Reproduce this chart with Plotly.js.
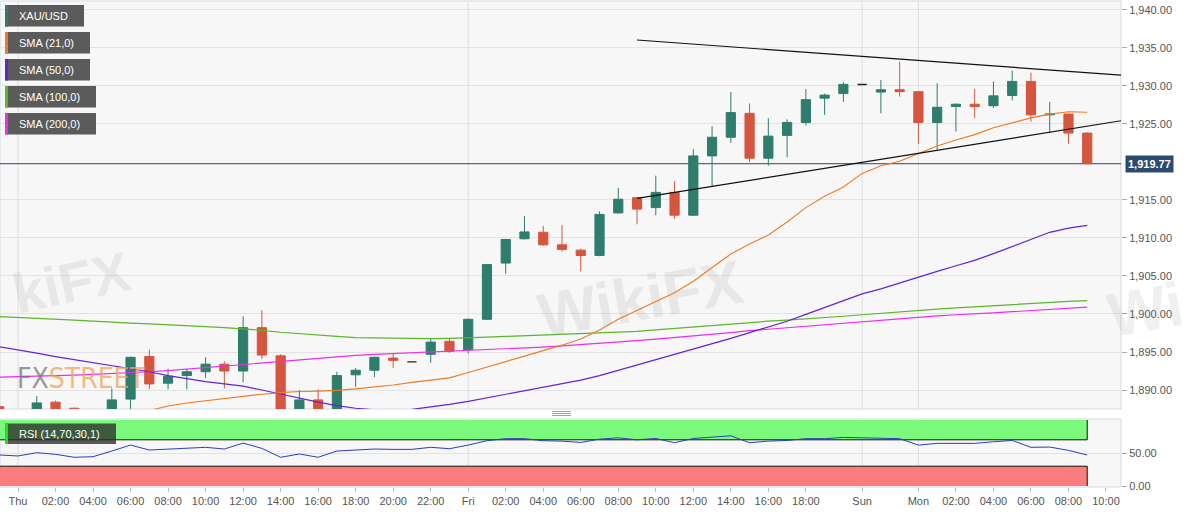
<!DOCTYPE html>
<html>
<head>
<meta charset="utf-8">
<script src="https://cdn.plot.ly/plotly-3.0.1.min.js"></script>
<style>
  html, body { margin: 0; padding: 0; background: #ffffff; }
  #chart { width: 1194px; height: 513px; }
</style>
</head>
<body>
<div id="chart"></div>
<script>
// ---------- DATA (hourly candles, index -1 = Wed 23:00, 0 = Thu 00:00) ----------
const FIRST_INDEX = -1;
const openP  = [1887.8, 1886.6, 1886.4, 1888.4, 1887.6, 1886.9, 1886.6, 1888.8, 1894.4, 1890.9,
                1891.9, 1892.4, 1893.4, 1892.5, 1898.2, 1894.5, 1886.0, 1888.7, 1886.8, 1892.0,
                1892.6, 1894.2, 1893.7, 1894.7, 1896.4, 1895.3, 1899.3, 1906.7, 1909.9, 1910.75,
                1909.1, 1908.4, 1907.7, 1913.3, 1915.3, 1914.0, 1916.0, 1913.0, 1920.8, 1923.25,
                1926.4, 1920.5, 1923.5, 1925.2, 1928.4, 1929.0, 1930.2, 1929.2, 1929.5, 1929.25,
                1925.2, 1927.3, 1927.6, 1927.4, 1928.75, 1930.6, 1926.2, 1926.3, 1923.8];
const highP  = [1888.0, 1887.0, 1889.2, 1888.6, 1887.7, 1887.2, 1890.2, 1894.4, 1895.3, 1892.8,
                1892.8, 1894.3, 1893.8, 1899.7, 1900.5, 1894.7, 1890.0, 1890.1, 1892.4, 1892.9,
                1894.4, 1894.8, 1893.7, 1896.7, 1896.7, 1899.4, 1906.6, 1909.9, 1912.9, 1911.6,
                1911.7, 1908.6, 1913.5, 1916.6, 1915.4, 1918.2, 1917.5, 1921.7, 1924.7, 1929.2,
                1927.7, 1925.75, 1925.6, 1929.6, 1929.0, 1930.5, 1930.2, 1930.8, 1933.2, 1929.3,
                1930.35, 1927.7, 1929.6, 1930.6, 1932.0, 1931.75, 1927.9, 1926.4, 1923.9];
const lowP   = [1886.0, 1885.4, 1885.9, 1886.3, 1886.4, 1885.8, 1886.2, 1887.0, 1890.1, 1890.1,
                1890.1, 1891.6, 1890.2, 1891.0, 1894.1, 1885.2, 1885.5, 1886.0, 1886.3, 1890.4,
                1891.7, 1892.9, 1893.7, 1893.6, 1894.9, 1894.8, 1899.2, 1905.3, 1909.8, 1909.0,
                1908.2, 1905.6, 1907.6, 1913.2, 1911.8, 1913.0, 1912.5, 1912.9, 1916.75, 1922.5,
                1920.0, 1919.5, 1920.6, 1924.8, 1926.2, 1927.9, 1930.2, 1926.4, 1928.6, 1922.4,
                1921.6, 1924.0, 1925.75, 1927.1, 1928.1, 1925.3, 1923.8, 1922.4, 1919.77];
const closeP = [1886.5, 1886.0, 1888.3, 1887.0, 1886.9, 1886.6, 1888.7, 1894.3, 1890.8, 1891.8,
                1892.4, 1893.4, 1892.5, 1898.2, 1894.6, 1886.0, 1888.7, 1886.8, 1891.9, 1892.6,
                1894.3, 1893.9, 1893.7, 1896.3, 1895.1, 1899.3, 1906.5, 1909.8, 1910.8, 1909.1,
                1908.5, 1907.7, 1913.1, 1915.1, 1913.8, 1916.0, 1913.0, 1920.8, 1923.25, 1926.5,
                1920.5, 1923.4, 1925.2, 1928.2, 1928.8, 1930.2, 1930.2, 1929.5, 1929.25, 1925.2,
                1927.2, 1927.6, 1927.3, 1928.7, 1930.6, 1926.2, 1926.3, 1923.8, 1919.77];

const sma21  = [1884.9, 1885.0, 1885.2, 1885.4, 1885.6, 1885.9, 1886.2, 1886.6, 1887.3, 1887.9,
                1888.3, 1888.6, 1888.9, 1889.15, 1889.45, 1889.65, 1889.8, 1889.85, 1889.95, 1890.15,
                1890.4, 1890.65, 1891.0, 1891.3, 1891.6, 1892.3, 1893.0, 1893.8, 1894.5, 1895.2,
                1895.9, 1896.7, 1897.9, 1899.3, 1900.5, 1901.6, 1902.8, 1904.3, 1906.1, 1907.9,
                1909.2, 1910.4, 1912.1, 1914.0, 1915.5, 1916.7, 1918.5, 1919.5, 1920.1, 1921.1,
                1922.1, 1922.9, 1923.6, 1924.5, 1925.2, 1925.8, 1926.3, 1926.6, 1926.55];
const sma50  = [1895.7, 1895.3, 1894.85, 1894.4, 1894.0, 1893.6, 1893.25, 1892.85, 1892.4, 1891.9,
                1891.45, 1891.1, 1890.8, 1890.5, 1890.0, 1889.45, 1888.9, 1888.4, 1887.95, 1887.6,
                1887.4, 1887.3, 1887.45, 1887.75, 1888.1, 1888.5, 1888.95, 1889.4, 1889.9, 1890.35,
                1890.85, 1891.3, 1891.9, 1892.6, 1893.3, 1893.95, 1894.6, 1895.3, 1896.05, 1896.8,
                1897.55, 1898.3, 1899.05, 1899.95, 1900.85, 1901.75, 1902.65, 1903.3, 1904.1, 1904.9,
                1905.6, 1906.35, 1907.05, 1907.95, 1908.9, 1909.85, 1910.75, 1911.3, 1911.65];
const sma100 = [1899.65, 1899.55, 1899.45, 1899.35, 1899.2, 1899.05, 1898.9, 1898.8, 1898.7, 1898.6,
                1898.5, 1898.35, 1898.2, 1898.05, 1897.85, 1897.6, 1897.4, 1897.2, 1897.05, 1896.9,
                1896.85, 1896.8, 1896.75, 1896.75, 1896.8, 1896.85, 1896.95, 1897.05, 1897.15, 1897.25,
                1897.35, 1897.45, 1897.5, 1897.6, 1897.7, 1897.9, 1898.1, 1898.3, 1898.5, 1898.7,
                1898.9, 1899.05, 1899.2, 1899.35, 1899.5, 1899.7, 1899.9, 1900.1, 1900.3, 1900.5,
                1900.65, 1900.8, 1900.95, 1901.1, 1901.25, 1901.4, 1901.55, 1901.65, 1901.75];
const sma200 = [1891.7, 1891.75, 1891.8, 1891.9, 1891.95, 1892.05, 1892.15, 1892.25, 1892.4, 1892.55,
                1892.75, 1892.95, 1893.2, 1893.4, 1893.6, 1893.8, 1894.0, 1894.2, 1894.4, 1894.55,
                1894.7, 1894.8, 1894.9, 1895.0, 1895.1, 1895.25, 1895.35, 1895.45, 1895.55, 1895.65,
                1895.8, 1895.95, 1896.1, 1896.3, 1896.5, 1896.7, 1896.9, 1897.1, 1897.35, 1897.55,
                1897.8, 1898.0, 1898.2, 1898.4, 1898.6, 1898.8, 1899.0, 1899.2, 1899.4, 1899.6,
                1899.75, 1899.9, 1900.0, 1900.15, 1900.3, 1900.45, 1900.6, 1900.75, 1900.9];
const rsi14  = [47, 45.5, 50.5, 48, 43.5, 44.4, 53, 62, 54.5, 56,
                57, 58.6, 56, 65, 57, 43.5, 48.5, 43.5, 53, 54,
                56, 55.5, 55.5, 58.6, 56.5, 62, 68.6, 71.7, 71.7, 68.6,
                68, 66, 71, 73, 70, 72, 65.6, 72, 74, 76,
                65.6, 68, 69, 71.7, 71.7, 73.6, 73, 72.5, 71.7, 62,
                64.6, 64.6, 64.6, 67, 69, 58.6, 59, 54, 47];

// trend lines (time index, price)
const trendUpperIdx   = [33, 60];
const trendUpperPrice = [1936.05, 1931.2];
const trendLowerIdx   = [33, 60];
const trendLowerPrice = [1915.2, 1925.9];

// RSI settings
const rsiUpper = 70, rsiLower = 30;

// axis labels
const tickIdx    = [0, 2, 4, 6, 8, 10, 12, 14, 16, 18, 20, 22, 24, 26, 28, 30, 32, 34, 36, 38, 40, 42, 45, 48, 50, 52, 54, 56, 58];
const tickLabels = ['Thu', '02:00', '04:00', '06:00', '08:00', '10:00', '12:00', '14:00', '16:00', '18:00', '20:00', '22:00',
                    'Fri', '02:00', '04:00', '06:00', '08:00', '10:00', '12:00', '14:00', '16:00', '18:00',
                    'Sun', 'Mon', '02:00', '04:00', '06:00', '08:00', '10:00'];
const dayNames   = ['Thu', 'Fri', 'Sun', 'Mon'];
const priceTicks = [1890, 1895, 1900, 1905, 1910, 1915, 1925, 1930, 1935, 1940];
const rsiTicks   = [0, 50];

const legendItems = ['XAU/USD', 'SMA (21,0)', 'SMA (50,0)', 'SMA (100,0)', 'SMA (200,0)'];

// ---------- BUILD ----------
const W = 1194, H = 513;
const M = {l: 0, r: 73, t: 1, b: 26};
const PW = W - M.l - M.r, PH = H - M.t - M.b;
const px = v => (v - M.l) / PW;            // pixel x -> paper
const py = v => (H - M.b - v) / PH;        // pixel y -> paper

const idx = openP.map((_, k) => k + FIRST_INDEX);
const firstIdx = idx[0], lastIdx = idx[idx.length - 1];
const isDoji = openP.map((o, k) => o === closeP[k]);
const pick = (arr, want) => arr.filter((_, k) => isDoji[k] === want);

const GREEN = '#2e7d6d', RED = '#d6553f';
const COL21 = '#ef7b22', COL50 = '#6424d6', COL100 = '#5cb52a', COL200 = '#ee2cee';

const traces = [
  {type: 'scatter', mode: 'lines', x: idx, y: sma200, line: {color: COL200, width: 1.2}, hoverinfo: 'skip', xaxis: 'x', yaxis: 'y'},
  {type: 'scatter', mode: 'lines', x: idx, y: sma100, line: {color: COL100, width: 1.2}, hoverinfo: 'skip', xaxis: 'x', yaxis: 'y'},
  {type: 'scatter', mode: 'lines', x: idx, y: sma50,  line: {color: COL50,  width: 1.2}, hoverinfo: 'skip', xaxis: 'x', yaxis: 'y'},
  {type: 'scatter', mode: 'lines', x: idx, y: sma21,  line: {color: COL21,  width: 1.1}, hoverinfo: 'skip', xaxis: 'x', yaxis: 'y'},
  {type: 'candlestick', x: pick(idx, false), open: pick(openP, false), high: pick(highP, false),
   low: pick(lowP, false), close: pick(closeP, false),
   increasing: {line: {color: GREEN, width: 1}, fillcolor: GREEN},
   decreasing: {line: {color: RED, width: 1}, fillcolor: RED},
   xaxis: 'x', yaxis: 'y', hoverinfo: 'skip'},
  {type: 'candlestick', x: pick(idx, true), open: pick(openP, true), high: pick(highP, true),
   low: pick(lowP, true), close: pick(closeP, true),
   increasing: {line: {color: '#222222', width: 1.4}, fillcolor: '#222222'},
   decreasing: {line: {color: '#222222', width: 1.4}, fillcolor: '#222222'},
   xaxis: 'x', yaxis: 'y', hoverinfo: 'skip'},
  {type: 'scatter', mode: 'lines', x: trendUpperIdx, y: trendUpperPrice, line: {color: '#111111', width: 1.2}, hoverinfo: 'skip', xaxis: 'x', yaxis: 'y'},
  {type: 'scatter', mode: 'lines', x: trendLowerIdx, y: trendLowerPrice, line: {color: '#111111', width: 1.2}, hoverinfo: 'skip', xaxis: 'x', yaxis: 'y'},
  {type: 'scatter', mode: 'lines', x: idx, y: rsi14, line: {color: '#2a3fbf', width: 1}, hoverinfo: 'skip', xaxis: 'x', yaxis: 'y2'}
];

const lastClose = closeP[closeP.length - 1];
const shapes = [];
// panel borders
['y', 'y2'].forEach(a => shapes.push({type: 'rect', xref: 'paper', yref: a + ' domain', x0: 0, x1: 1, y0: 0, y1: 1,
  line: {color: '#d3d9e2', width: 1}, fillcolor: 'rgba(0,0,0,0)', layer: 'below'}));
// day separators
tickIdx.forEach((v, k) => {
  if (dayNames.includes(tickLabels[k])) {
    ['y', 'y2'].forEach(a => shapes.push({type: 'line', xref: 'x', yref: a + ' domain', x0: v, x1: v, y0: 0, y1: 1,
      line: {color: '#dedede', width: 1}, layer: 'below'}));
  }
});
// RSI zones
shapes.push({type: 'rect', xref: 'x', yref: 'y2', x0: firstIdx - 0.5, x1: lastIdx, y0: rsiUpper, y1: 100,
  fillcolor: '#7bfa7b', line: {width: 0}, layer: 'below'});
shapes.push({type: 'rect', xref: 'x', yref: 'y2', x0: firstIdx - 0.5, x1: lastIdx, y0: 0, y1: rsiLower,
  fillcolor: '#fa7c7c', line: {width: 0}, layer: 'below'});
[rsiUpper, rsiLower].forEach(v => shapes.push({type: 'line', xref: 'x', yref: 'y2', x0: firstIdx - 0.5, x1: lastIdx, y0: v, y1: v,
  line: {color: '#111111', width: 1}, layer: 'below'}));
shapes.push({type: 'line', xref: 'x', yref: 'y2', x0: lastIdx, x1: lastIdx, y0: rsiUpper, y1: 100, line: {color: '#111111', width: 1}, layer: 'below'});
shapes.push({type: 'line', xref: 'x', yref: 'y2', x0: lastIdx, x1: lastIdx, y0: 0, y1: rsiLower, line: {color: '#111111', width: 1}, layer: 'below'});
// current price line
shapes.push({type: 'line', xref: 'paper', yref: 'y', x0: 0, x1: 1, y0: lastClose, y1: lastClose,
  line: {color: '#2b4a6e', width: 1}, layer: 'below'});
// panel resize handle
[411.5, 413.5, 415.5].forEach(v => shapes.push({type: 'line', xref: 'paper', yref: 'paper', x0: px(552), x1: px(571), y0: py(v), y1: py(v),
  line: {color: '#8a8a8a', width: 0.8}}));

const annotations = [];
// legend boxes
const legendColors = [GREEN, COL21, COL50, COL100, COL200];
const legendTops = [5, 32, 59, 86, 113];
const legendRights = [84, 90, 90, 96, 96];
legendItems.forEach((name, k) => {
  const top = legendTops[k], bot = top + 21.5;
  shapes.push({type: 'rect', xref: 'paper', yref: 'paper', x0: px(5), x1: px(legendRights[k]), y0: py(bot), y1: py(top),
    fillcolor: '#5b5b5b', line: {width: 0}, layer: 'above'});
  shapes.push({type: 'rect', xref: 'paper', yref: 'paper', x0: px(5), x1: px(8), y0: py(bot), y1: py(top),
    fillcolor: legendColors[k], line: {width: 0}, layer: 'above'});
  annotations.push({xref: 'paper', yref: 'paper', x: px(17), y: py((top + bot) / 2), xanchor: 'left', yanchor: 'middle',
    text: name, showarrow: false, font: {family: 'Arial, Liberation Sans, sans-serif', size: 11, color: '#ffffff'}});
});
// RSI label
shapes.push({type: 'rect', xref: 'paper', yref: 'paper', x0: px(5), x1: px(116), y0: py(444), y1: py(423.5),
  fillcolor: 'rgba(45,45,45,0.78)', line: {width: 0}, layer: 'above'});
shapes.push({type: 'rect', xref: 'paper', yref: 'paper', x0: px(5), x1: px(8), y0: py(444), y1: py(423.5),
  fillcolor: '#1ee01e', line: {width: 0}, layer: 'above'});
annotations.push({xref: 'paper', yref: 'paper', x: px(17), y: py(434), xanchor: 'left', yanchor: 'middle',
  text: 'RSI (14,' + rsiUpper + ',' + rsiLower + ',1)', showarrow: false,
  font: {family: 'Arial, Liberation Sans, sans-serif', size: 11, color: '#ffffff'}});
// last price label
annotations.push({xref: 'paper', yref: 'y', x: px(1125), y: lastClose, xanchor: 'left', yanchor: 'middle',
  text: '<b>' + lastClose.toLocaleString('en-US', {minimumFractionDigits: 2, maximumFractionDigits: 2}) + '</b>',
  showarrow: false, bgcolor: '#2b4a6e', borderpad: 2,
  font: {family: 'Arial, Liberation Sans, sans-serif', size: 11, color: '#ffffff'}});
// watermarks
annotations.push({xref: 'paper', yref: 'paper', x: px(4), y: py(282), xanchor: 'left', yanchor: 'middle',
  text: '<b>kiFX</b>', showarrow: false, textangle: -12,
  font: {family: 'Arial, Liberation Sans, sans-serif', size: 56, color: 'rgba(150,150,150,0.16)'}});
annotations.push({xref: 'paper', yref: 'paper', x: px(640), y: py(298), xanchor: 'center', yanchor: 'middle',
  text: '<b>WikiFX</b>', showarrow: false, textangle: -10,
  font: {family: 'Arial, Liberation Sans, sans-serif', size: 62, color: 'rgba(150,150,150,0.16)'}});
annotations.push({xref: 'paper', yref: 'paper', x: px(1100), y: py(310), xanchor: 'left', yanchor: 'middle',
  text: '<b>Wi</b>', showarrow: false, textangle: -10,
  font: {family: 'Arial, Liberation Sans, sans-serif', size: 62, color: 'rgba(150,150,150,0.14)'}});
annotations.push({xref: 'paper', yref: 'paper', x: px(15), y: py(378), xanchor: 'left', yanchor: 'middle',
  text: '<span style="color:rgba(120,120,120,0.75)">FX</span><span style="color:rgba(240,165,90,0.75)">STREET</span>',
  showarrow: false,
  font: {family: 'Liberation Sans Narrow, DejaVu Sans Condensed, Arial, sans-serif', size: 28, color: '#999'}});

const axisFont = {family: 'Arial, Liberation Sans, sans-serif', size: 11, color: '#555555'};
const layout = {
  width: W, height: H,
  margin: M,
  paper_bgcolor: '#ffffff',
  plot_bgcolor: '#f7f7f7',
  showlegend: false,
  dragmode: false,
  xaxis: {
    anchor: 'y2', range: [-0.96, 58.8], rangeslider: {visible: false},
    tickvals: tickIdx, ticktext: tickLabels, ticks: 'outside', ticklen: 4, tickcolor: '#bbbbbb',
    tickfont: axisFont, showgrid: false, zeroline: false, showline: false, fixedrange: true
  },
  yaxis: {
    domain: [py(409), 1], range: [1887.5, 1941.18], side: 'right', anchor: 'x',
    tickvals: priceTicks, tickformat: ',.2f', ticks: 'outside', ticklen: 5, tickcolor: '#aaaaaa',
    tickfont: axisFont, gridcolor: '#e3e3e3', zeroline: false, showline: false, fixedrange: true
  },
  yaxis2: {
    domain: [0, py(419)], range: [-1.5, 101.5], side: 'right', anchor: 'x',
    tickvals: rsiTicks, tickformat: '.2f', ticks: 'outside', ticklen: 5, tickcolor: '#aaaaaa',
    tickfont: axisFont, gridcolor: '#e3e3e3', zeroline: false, showline: false, fixedrange: true
  },
  shapes: shapes,
  annotations: annotations
};

Plotly.newPlot('chart', traces, layout, {staticPlot: true, displayModeBar: false});
</script>
</body>
</html>
